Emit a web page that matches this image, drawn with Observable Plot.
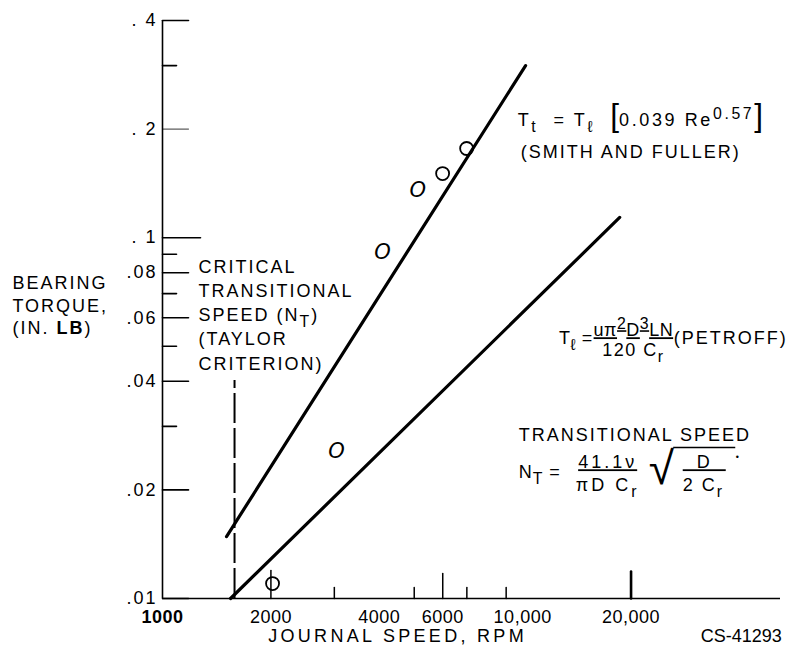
<!DOCTYPE html>
<html>
<head>
<meta charset="utf-8">
<script src="https://cdn.jsdelivr.net/npm/d3@7"></script>
<script src="https://cdn.jsdelivr.net/npm/@observablehq/plot@0.6"></script>
<style>
  body { margin: 0; background: #fff; }
  #chart svg { display: block; }
</style>
</head>
<body>
<div id="chart"></div>
<script>
// ---------- data ----------
const smithSpeed = [1506, 10190];          // rpm, turbulent (Smith and Fuller) line
const smithTorque = [0.01485, 0.300];      // in.-lb
const petroffSpeed = [1545, 18600];        // rpm, laminar (Petroff) line
const petroffTorque = [0.0100, 0.1138];
const testSpeed = [6990, 5995, 5113, 4084, 3043, 2021];
const testTorque = [0.1767, 0.1506, 0.1351, 0.0910, 0.02555, 0.01100];
const testSymbol = ["circle", "circle", "italic", "italic", "italic", "circle"];
const criticalSpeed = 1585;                // Taylor criterion N_T
const criticalTop = 0.0402;
const yTickValues = [0.4, 0.2, 0.1, 0.08, 0.06, 0.04, 0.02, 0.01];
const yTickLabels = [". 4", ". 2", ". 1", ".08", ".06", ".04", ".02", ".01"];
const yMinorTicks = [0.3, 0.09, 0.07, 0.05, 0.03];
const xTickLabelValues = [1000, 2000, 4000, 6000, 10000, 20000];
const xTickLabels = ["1000", "2000", "4000", "6000", "10,000", "20,000"];
const xTickMarks = [2000, 3000, 5000, 6000, 7000, 9000, 20000];
const xDomain = [1000, 52000];
const yDomain = [0.01, 0.4];

const smith = smithSpeed.map((s, i) => ({speed: s, torque: smithTorque[i]}));
const petroff = petroffSpeed.map((s, i) => ({speed: s, torque: petroffTorque[i]}));
const tests = testSpeed.map((s, i) => ({speed: s, torque: testTorque[i], symbol: testSymbol[i]}));

const tickShape = {draw(context, l) { context.moveTo(0, 0); context.lineTo(0, -l); }};
const FONT = "'Liberation Sans', Arial, 'DejaVu Sans', sans-serif";

// annotation strings (markup: _{sub} ^{sup} B{big} U{underline} W{bold})
const critText = "CRITICAL\nTRANSITIONAL\nSPEED (N_{T})\n(TAYLOR\nCRITERION)";
const yTitle = "BEARING\nTORQUE,\n(IN. W{LB})";
const smithEq = "T_{t}\u00a0 = T_{ℓ}\u00a0 B{[}0.039 Re^{0.57}B{]}";
const smithName = "(SMITH AND FULLER)";
const petroffLhs = "T_{ℓ} =";
const petroffNum = "U{uπ^{2}D^{3}LN}";
const petroffDen = "120 C_{r}";
const petroffName = "(PETROFF)";
const transTitle = "TRANSITIONAL SPEED";
const transLhs = "N_{T} =";
const transNum = "U{41.1ν}";
const transDen = "πD C_{r}";
const rootNum = "U{\u00a0\u00a0D\u00a0\u00a0}";
const rootDen = "2 C_{r}";
const xTitle = "JOURNAL SPEED, RPM";
const credit = "CS-41293";

const fig = Plot.plot({
  width: 788,
  height: 653,
  marginTop: 0, marginRight: 0, marginBottom: 0, marginLeft: 0,
  x: {type: "log", domain: xDomain, range: [162, 780], axis: null},
  y: {type: "log", domain: yDomain, range: [598, 20], axis: null},
  length: {type: "identity"},
  style: {background: "white", color: "black", fontFamily: FONT, fontSize: "18px", letterSpacing: "2px", overflow: "visible"},
  marks: [
    // axes
    Plot.ruleX([xDomain[0]], {y1: yDomain[0], y2: yDomain[1], strokeWidth: 1.6}),
    Plot.ruleY([yDomain[0]], {x1: xDomain[0], x2: xDomain[1], strokeWidth: 1.6}),
    Plot.vector(yTickValues, {x: xDomain[0], y: d => d, rotate: 90, anchor: "start", shape: tickShape,
      length: d => d === 0.1 ? 38 : 26, stroke: "black", strokeWidth: d => d === 0.2 ? 0.8 : 1.6}),
    Plot.vector(yMinorTicks, {x: xDomain[0], y: d => d, rotate: 90, anchor: "start", shape: tickShape,
      length: 14, stroke: "black", strokeWidth: 1.6}),
    Plot.vector(xTickMarks, {x: d => d, y: yDomain[0], rotate: 0, anchor: "start", shape: tickShape,
      length: d => d === 2000 ? 28 : d === 6000 ? 25 : d === 20000 ? 27 : 11,
      stroke: "black", strokeWidth: d => d === 20000 ? 2.6 : 1.5}),
    Plot.text(yTickValues, {x: xDomain[0], y: d => d, text: (d, i) => yTickLabels[i], textAnchor: "end", dx: -5}),
    Plot.text(xTickLabelValues, {x: d => d, y: yDomain[0], text: (d, i) => xTickLabels[i], dy: 19}),

    // theory lines
    Plot.line(smith, {x: "speed", y: "torque", stroke: "black", strokeWidth: 3.2}),
    Plot.line(petroff, {x: "speed", y: "torque", stroke: "black", strokeWidth: 3.2}),
    Plot.ruleX([criticalSpeed], {y1: yDomain[0], y2: criticalTop, stroke: "black", strokeWidth: 2, strokeDasharray: "30,5"}),

    // test points
    Plot.dot(tests.filter(d => d.symbol === "circle"), {x: "speed", y: "torque", r: 6.5, stroke: "black", strokeWidth: 1.8, fill: "none"}),
    Plot.text(tests.filter(d => d.symbol === "italic"), {x: "speed", y: "torque", text: () => "O",
      fontStyle: "italic", fontSize: 21, fontFamily: "'DejaVu Sans', sans-serif"}),

    // annotations
    Plot.text([critText], {x: 1259, y: 0.06165, text: d => d, textAnchor: "start", lineHeight: 1.345}),
    Plot.text([yTitle], {x: 383, y: 0.06527, text: d => d, textAnchor: "start", lineHeight: 1.25}),
    Plot.text([smithEq], {x: 9685, y: 0.2113, text: d => d, textAnchor: "start"}),
    Plot.text([smithName], {x: 9873, y: 0.1722, text: d => d, textAnchor: "start"}),
    Plot.text([petroffLhs], {x: 15650, y: 0.05254, text: d => d, textAnchor: "end"}),
    Plot.text([petroffNum], {x: 20300, y: 0.05532, text: d => d, textAnchor: "middle"}),
    Plot.text([petroffDen], {x: 20300, y: 0.04868, text: d => d, textAnchor: "middle"}),
    Plot.text([petroffName], {x: 26270, y: 0.05254, text: d => d, textAnchor: "start"}),
    Plot.text([transTitle], {x: 9748, y: 0.02830, text: d => d, textAnchor: "start"}),
    Plot.text([transLhs], {x: 9748, y: 0.02235, text: d => d, textAnchor: "start"}),
    Plot.text([transNum], {x: 17220, y: 0.02382, text: d => d, textAnchor: "middle"}),
    Plot.text([transDen], {x: 17220, y: 0.02057, text: d => d, textAnchor: "middle"}),
    Plot.text(["√"], {x: 22390, y: 0.02278, text: d => d, textAnchor: "start", fontSize: 46}),
    Plot.ruleY([0.02622], {x1: 26270, x2: 39060, stroke: "black", strokeWidth: 1.4}),
    Plot.text([rootNum], {x: 27830, y: 0.02382, text: d => d, textAnchor: "start"}),
    Plot.text([rootDen], {x: 27830, y: 0.02057, text: d => d, textAnchor: "start"}),
    Plot.text(["•"], {x: 39060, y: 0.02459, text: d => d, textAnchor: "start", fontSize: 9}),
    Plot.text([xTitle], {x: 4495, y: 0.00785, text: d => d, textAnchor: "middle"}),
    Plot.text([credit], {x: 52420, y: 0.00785, text: d => d, textAnchor: "end"})
  ]
});

// ---------- letter spacing per text ----------
const spacing = new Map([
  [xTitle, "3.3px"], [credit, "0px"], ["O", "0px"], ["√", "0px"], ["•", "0px"], ["1000", "0.5px"],
  [smithEq, "2.6px"], [petroffLhs, "0.5px"], [petroffNum, "0.5px"], [petroffDen, "1.5px"], [transLhs, "1px"],
  [transNum, "3px"], [transDen, "3px"],
  ...xTickLabels.map(t => [t, "0.5px"])
]);
const root = d3.select(fig);
root.selectAll("text").each(function() {
  const t = this.textContent;
  if (spacing.has(t)) this.style.letterSpacing = spacing.get(t);
  if (t === "1000") this.style.fontWeight = "bold";
});

// ---------- rich text ----------
const OPS = "_^BUW";
function parseMarkup(s) {
  const out = []; let buf = ""; let i = 0;
  while (i < s.length) {
    const c = s[i];
    if (OPS.includes(c) && s[i + 1] === "{") {
      if (buf) { out.push(buf); buf = ""; }
      let depth = 1, j = i + 2;
      while (j < s.length && depth) { if (s[j] === "{") depth++; else if (s[j] === "}") depth--; j++; }
      out.push({op: c, children: parseMarkup(s.slice(i + 2, j - 1))});
      i = j;
    } else { buf += c; i++; }
  }
  if (buf) out.push(buf);
  return out;
}
function renderMarkup(el, nodes) {
  for (const n of nodes) {
    if (typeof n === "string") { el.appendChild(document.createTextNode(n)); continue; }
    const t = document.createElementNS("http://www.w3.org/2000/svg", "tspan");
    if (n.op === "_") { t.style.fontSize = "88%"; t.setAttribute("baseline-shift", "-0.35em"); }
    if (n.op === "^") { t.style.fontSize = "88%"; t.setAttribute("baseline-shift", "0.45em"); }
    if (n.op === "B") { t.style.fontSize = "175%"; t.style.letterSpacing = "0px"; }
    if (n.op === "U") { t.style.textDecoration = "underline"; }
    if (n.op === "W") { t.style.fontWeight = "bold"; }
    renderMarkup(t, n.children);
    el.appendChild(t);
  }
}
root.selectAll("text, tspan").each(function() {
  if (this.children.length) return;
  const raw = this.textContent;
  if (/[_^BUW]\{/.test(raw)) { this.textContent = ""; renderMarkup(this, parseMarkup(raw)); }
});

document.getElementById("chart").appendChild(fig);
</script>
</body>
</html>
